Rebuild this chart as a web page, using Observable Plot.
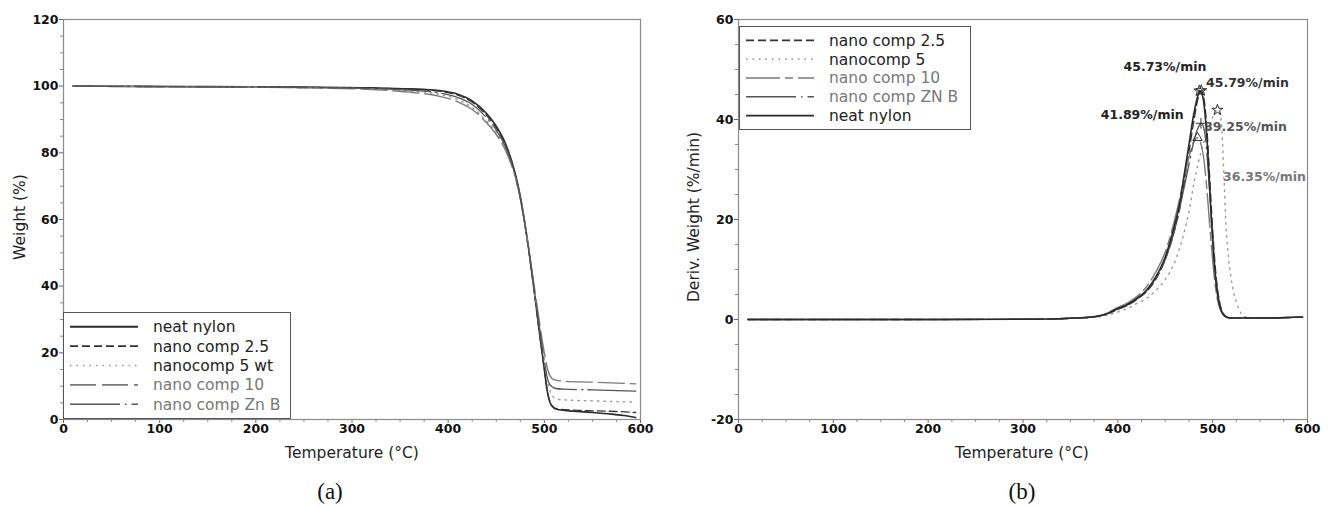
<!DOCTYPE html>
<html><head><meta charset="utf-8">
<script src="https://cdn.jsdelivr.net/npm/d3@7"></script>
<script src="https://cdn.jsdelivr.net/npm/@observablehq/plot@0.6"></script>
<style>
body{margin:0;background:#fff;width:1329px;height:508px;position:relative;overflow:hidden;font-family:"DejaVu Sans",sans-serif}
.abs{position:absolute}
.ytitle{position:absolute;transform:translate(-50%,-50%) rotate(-90deg);white-space:nowrap;font-size:15.5px;color:#222}
.xtitle{position:absolute;transform:translate(-50%,-50%);white-space:nowrap;font-size:15.5px;color:#222}
.panel{position:absolute;font-family:"Liberation Serif",serif;font-size:23px;transform:translate(-50%,-50%);color:#111}
.legend{position:absolute;background:#fff;border:1px solid #555;box-sizing:border-box}
</style></head><body>
<div id="a" class="abs" style="left:0;top:0"></div>
<div id="b" class="abs" style="left:664px;top:0"></div>
<div class="ytitle" style="left:20px;top:217px">Weight (%)</div>
<div class="ytitle" style="left:694px;top:217px">Deriv. Weight (%/min)</div>
<div class="xtitle" style="left:352px;top:453px">Temperature (°C)</div>
<div class="xtitle" style="left:1022px;top:453px">Temperature (°C)</div>
<div class="panel" style="left:330px;top:492px">(a)</div>
<div class="panel" style="left:1022px;top:492px">(b)</div>
<div id="legA" class="legend" style="left:63px;top:312px;width:228px;height:107px"></div>
<div id="legB" class="legend" style="left:739px;top:26px;width:232px;height:104px"></div>
<script>
// ---------- data ----------
const xTicks = [0, 100, 200, 300, 400, 500, 600];
const yTicksA = [0, 20, 40, 60, 80, 100, 120];
const yTicksB = [-20, 0, 20, 40, 60];

// TGA (panel a): [temperature °C, weight %]
const tgaNeat = [[10,100],[80,99.95],[150,99.85],[250,99.7],[320,99.5],[360,99.2],[390,98.7],[410,97.6],[425,95.6],[440,91.8],[450,88],[460,82.5],[470,73.5],[475,67],[480,58.5],[485,48.5],[490,37.5],[495,26],[500,15],[503,8.5],[506,5],[510,3.4],[515,2.9],[530,2.5],[550,2.1],[570,1.6],[585,1.1],[595,0.6]];
const tga25 = [[10,100],[80,99.9],[150,99.8],[250,99.65],[320,99.4],[360,99.1],[390,98.5],[410,97.3],[425,95.2],[440,91.2],[450,87.5],[460,82],[470,73],[475,66.5],[480,58],[485,48],[490,37],[495,25.5],[500,15],[503,8.8],[506,5.2],[510,3.6],[515,3.1],[530,2.8],[550,2.6],[575,2.4],[595,2.1]];
const tga5 = [[10,100],[80,99.9],[150,99.8],[250,99.6],[320,99.2],[360,98.6],[390,97.6],[410,96],[425,93.6],[440,89.5],[450,86],[460,81],[470,72.5],[475,66],[480,58],[485,48.5],[490,38],[495,27.5],[500,17.5],[504,10.5],[508,7.3],[512,6.3],[520,5.9],[550,5.6],[595,5.2]];
const tga10 = [[10,100],[80,99.85],[150,99.75],[250,99.5],[320,99],[360,98.2],[390,97],[410,95.3],[425,93],[440,89],[450,85.5],[460,80.5],[470,72.5],[475,66.5],[480,58.5],[485,49],[490,39],[495,29],[500,20],[504,14.5],[508,12.3],[512,11.8],[520,11.5],[550,11.2],[595,10.7]];
const tgaZnB = [[10,100],[80,99.9],[150,99.8],[250,99.6],[320,99.3],[360,98.8],[390,98],[410,96.6],[425,94.5],[440,90.5],[450,86.8],[460,81.5],[470,73],[475,66.5],[480,58],[485,48.5],[490,38],[495,27.5],[500,17.5],[504,11.5],[508,9.8],[512,9.3],[520,9.1],[550,8.9],[595,8.5]];

// DTG (panel b): [temperature °C, deriv. weight %/min]
const dtgNeat = [[10,0],[100,0],[200,0],[300,0.05],[330,0.1],[350,0.25],[370,0.45],[385,0.9],[400,2.2],[410,3],[420,4.2],[430,5.8],[440,8.5],[450,12.5],[460,19],[465,23],[470,29],[475,35],[480,41],[484,44.5],[486,45.73],[489,45],[492,41],[495,33],[498,22],[501,13],[504,6.5],[507,3],[510,1.3],[514,0.5],[520,0.3],[560,0.3],[580,0.4],[595,0.5]];
const dtg25 = [[10,0],[100,0],[200,0],[300,0.05],[330,0.1],[350,0.25],[370,0.45],[385,0.9],[400,2],[410,2.8],[420,4],[430,5.5],[440,8],[450,12],[460,18],[465,22],[470,27.5],[475,33.5],[480,39.5],[485,44.5],[488,45.79],[491,44],[494,38],[497,28],[500,18],[503,10],[506,5],[509,2.2],[513,0.8],[518,0.3],[560,0.3],[580,0.4],[595,0.5]];
const dtg5 = [[10,0],[100,0],[200,0],[300,0.05],[330,0.1],[350,0.2],[370,0.35],[385,0.7],[400,1.5],[410,2.2],[420,3.2],[430,4.2],[440,5.8],[450,8],[460,11.5],[470,17.5],[475,21.5],[480,27],[485,31.5],[490,35],[495,38],[500,40.5],[505,41.89],[508,41],[510,37],[512,28],[514,19],[517,12],[521,6.5],[525,3.5],[530,1.2],[535,0.5],[545,0.3],[560,0.3],[580,0.4],[595,0.5]];
const dtg10 = [[10,0],[100,0],[200,0],[300,0.05],[330,0.1],[350,0.25],[370,0.5],[385,1],[400,2.4],[410,3.3],[420,4.6],[430,6.5],[440,9.5],[450,13.5],[460,20],[465,24],[470,28.5],[475,32.5],[480,35.5],[484,36.35],[487,35.5],[490,33],[493,28],[496,21],[499,14],[502,8],[505,4],[508,2],[512,0.8],[518,0.3],[560,0.3],[580,0.4],[595,0.5]];
const dtgZnB = [[10,0],[100,0],[200,0],[300,0.05],[330,0.1],[350,0.25],[370,0.45],[385,0.9],[400,2.1],[410,2.9],[420,4.1],[430,5.7],[440,8.3],[450,12],[460,18],[465,22],[470,26.5],[475,31],[480,35.5],[485,38.5],[488,39.25],[491,38],[494,33],[497,25],[500,16],[503,9],[506,4.5],[509,2],[513,0.7],[518,0.3],[560,0.3],[580,0.4],[595,0.5]];

// peak annotations (panel b)
const peakLabels = ["45.73%/min", "45.79%/min", "41.89%/min", "39.25%/min", "36.35%/min"];
const peakLabelT = [406, 493, 382, 491, 511];
const peakLabelV = [50.6, 47.3, 40.9, 38.6, 28.6];
const peakLabelColor = ["#222", "#333", "#222", "#555", "#777"];
const markerT = [486, 488, 505, 487.6, 484];
const markerV = [45.73, 45.79, 41.89, 39.25, 36.35];
const markerSymbol = ["star", "star", "star", "plus", "triangle"];

// ---------- styles ----------
const styleNeat = {stroke: "#2a2a2a", strokeWidth: 1.6, dash: null};
const style25 = {stroke: "#333", strokeWidth: 1.3, dash: "8,4"};
const style5 = {stroke: "#999", strokeWidth: 1.4, dash: "1.5,5"};
const style10A = {stroke: "#7a7a7a", strokeWidth: 1.4, dash: "26,6"};
const style10B = {stroke: "#7a7a7a", strokeWidth: 1.4, dash: "34,5,8,5"};
const styleZnB = {stroke: "#555", strokeWidth: 1.3, dash: "50,5,1.5,5"};

const seriesA = [
  {name: "neat nylon", data: tgaNeat, s: styleNeat, tc: "#222"},
  {name: "nano comp 2.5", data: tga25, s: style25, tc: "#222"},
  {name: "nanocomp 5 wt", data: tga5, s: style5, tc: "#222"},
  {name: "nano comp 10", data: tga10, s: style10A, tc: "#777"},
  {name: "nano comp Zn B", data: tgaZnB, s: styleZnB, tc: "#777"}
];
const seriesB = [
  {name: "nano comp 2.5", data: dtg25, s: style25, tc: "#222"},
  {name: "nanocomp 5", data: dtg5, s: style5, tc: "#222"},
  {name: "nano comp 10", data: dtg10, s: style10B, tc: "#777"},
  {name: "nano comp ZN B", data: dtgZnB, s: styleZnB, tc: "#777"},
  {name: "neat nylon", data: dtgNeat, s: styleNeat, tc: "#222"}
];

const axisFont = {fontFamily: "DejaVu Sans", fontSize: "12.5px", fontWeight: "bold", color: "#111", background: "transparent"};
const plainNum = d => String(d);

function lineMarks(series) {
  return series.map(d => Plot.line(d.data, {
    x: p => p[0], y: p => p[1], stroke: d.s.stroke, strokeWidth: d.s.strokeWidth,
    strokeDasharray: d.s.dash || undefined, curve: "monotone-x"
  }));
}
function axes(yTicks, yMinorStep, yDomain) {
  return [
    Plot.axisX(xTicks, {tickSize: 4, tickPadding: 1, label: null, stroke: "#666", tickFormat: plainNum}),
    Plot.axisX(d3.range(25, 600, 25).filter(v => v % 100), {tickSize: 3, tickFormat: () => "", label: null, stroke: "#888"}),
    Plot.axisY(yTicks, {tickSize: 4, tickPadding: 1, label: null, stroke: "#666", tickFormat: plainNum}),
    Plot.axisY(d3.range(yDomain[0] + yMinorStep, yDomain[1], yMinorStep).filter(v => v % 20), {tickSize: 3, tickFormat: () => "", label: null, stroke: "#888"}),
    Plot.frame({stroke: "#8a8a8a", strokeWidth: 1.2})
  ];
}

const chartA = Plot.plot({
  width: 664, height: 460,
  marginLeft: 63, marginRight: 24, marginTop: 19, marginBottom: 41,
  style: axisFont,
  x: {domain: [0, 600]},
  y: {domain: [0, 120]},
  marks: [
    ...lineMarks(seriesA),
    ...axes(yTicksA, 5, [0, 120])
  ]
});
document.getElementById("a").appendChild(chartA);

const peaks = peakLabels.map((t, i) => ({t, x: peakLabelT[i], y: peakLabelV[i], c: peakLabelColor[i]}));
const markers = markerT.map((x, i) => ({x, y: markerV[i], sym: markerSymbol[i]}));

const chartB = Plot.plot({
  width: 665, height: 460,
  marginLeft: 74, marginRight: 22, marginTop: 19, marginBottom: 41,
  style: axisFont,
  x: {domain: [0, 600]},
  y: {domain: [-20, 60]},
  symbol: {domain: ["star", "plus", "triangle"], range: ["star", "plus", "triangle"]},
  marks: [
    ...lineMarks(seriesB),
    Plot.dot(markers, {x: "x", y: "y", symbol: "sym", r: 3.5, stroke: "#333", fill: "none", strokeWidth: 1}),
    Plot.text(peaks, {x: "x", y: "y", text: "t", fill: "c", textAnchor: "start", fontWeight: "bold", fontSize: 12.5, fontFamily: "DejaVu Sans"}),
    ...axes(yTicksB, 5, [-20, 60])
  ]
});
document.getElementById("b").appendChild(chartB);

// ---------- legends ----------
function legend(el, series, w, h) {
  const svg = d3.select(el).append("svg").attr("width", w).attr("height", h).style("display", "block");
  const rowH = (h - 8) / series.length;
  series.forEach((d, i) => {
    const cy = 4 + rowH * (i + 0.5);
    svg.append("line").attr("x1", 6).attr("x2", 74).attr("y1", cy).attr("y2", cy)
      .attr("stroke", d.s.stroke).attr("stroke-width", d.s.strokeWidth + 0.3)
      .attr("stroke-dasharray", d.s.dash);
    svg.append("text").attr("x", 89).attr("y", cy).attr("dy", "0.35em")
      .attr("font-family", "DejaVu Sans").attr("font-size", "15.5px").attr("fill", d.tc).text(d.name);
  });
}
legend(document.getElementById("legA"), seriesA, 226, 105);
legend(document.getElementById("legB"), seriesB, 230, 102);
</script>
</body></html>
